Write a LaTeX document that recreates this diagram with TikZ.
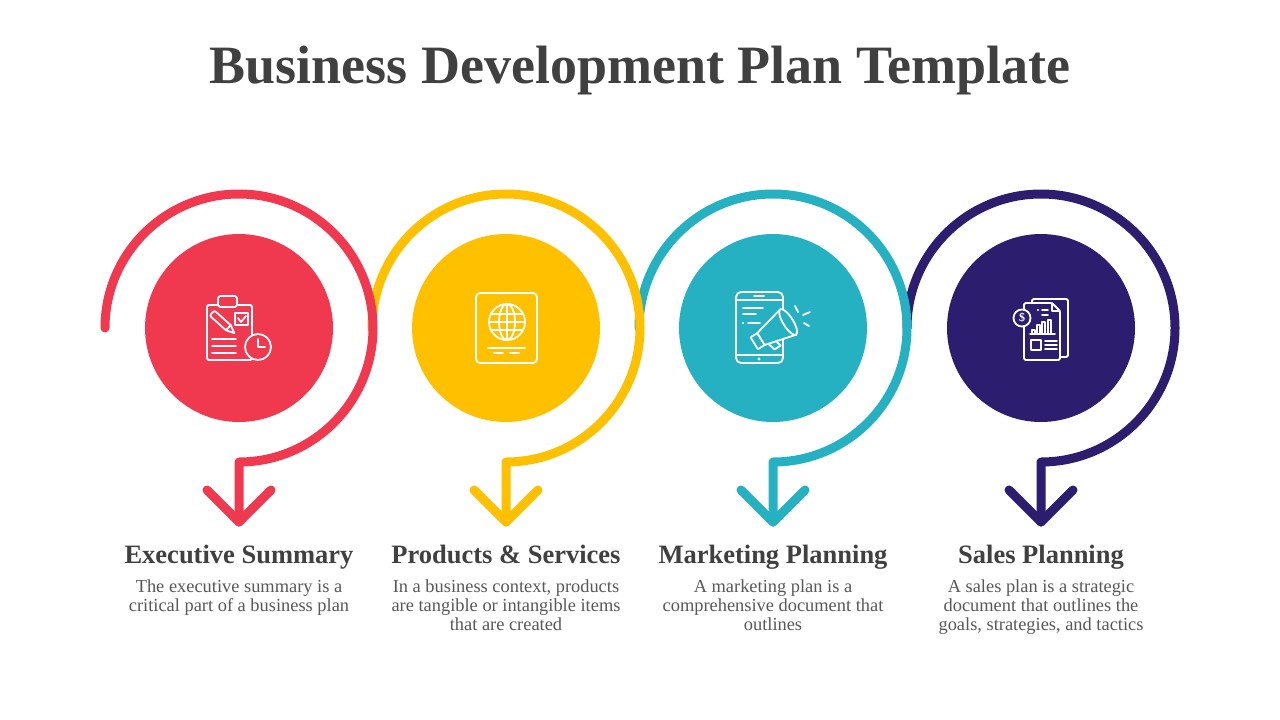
\documentclass[tikz,border=0pt]{standalone}
\usepackage{fontspec}
\setmainfont{Liberation Serif}
\usepackage{tikz}
\usetikzlibrary{calc}
\usetikzlibrary{positioning}
\definecolor{redA}{RGB}{240,56,79}
\definecolor{yellowB}{RGB}{255,192,0}
\definecolor{tealC}{RGB}{38,177,195}
\definecolor{purpleD}{RGB}{45,29,111}
\definecolor{inkgray}{RGB}{64,64,64}
\definecolor{bodygray}{RGB}{88,88,88}
\tikzset{disc/.style={circle, fill, minimum size=188pt, inner sep=0pt}}
\tikzset{ring/.style={line width=9pt, line cap=round, line join=round}}
\tikzset{icon/.style={draw=white, line width=1.8pt, line cap=round, line join=round}}
\tikzset{heading/.style={text=inkgray, font=\bfseries\fontsize{26.5}{30}\selectfont, anchor=base, inner sep=0pt}}
\tikzset{blurb/.style={text=bodygray, font=\fontsize{18.4}{19}\selectfont, align=center, anchor=base, inner sep=0pt}}

\begin{document}
\begin{tikzpicture}[x=1pt, y=-1pt]
\useasboundingbox (0,0) rectangle (1280,720);
\fill[white] (0,0) rectangle (1280,720);

\node[text=inkgray, font=\bfseries\fontsize{54}{60}\selectfont, anchor=base] (title) at (640,83) {Business Development Plan Template};

\coordinate (cA) at (239,328);
\coordinate (cB) at (506,328);
\coordinate (cC) at (773,328);
\coordinate (cD) at (1041,328);

\draw[ring, purpleD] ($(cD)+(-134,0)$) arc[start angle=180, end angle=450, radius=134] -- ($(cD)+(0,194)$) coordinate (tipD);
\draw[ring, purpleD] ($(tipD)+(-32,-32)$) -- (tipD) -- ($(tipD)+(32,-32)$);
\draw[ring, tealC] ($(cC)+(-134,0)$) arc[start angle=180, end angle=450, radius=134] -- ($(cC)+(0,194)$) coordinate (tipC);
\draw[ring, tealC] ($(tipC)+(-32,-32)$) -- (tipC) -- ($(tipC)+(32,-32)$);
\draw[ring, yellowB] ($(cB)+(-134,0)$) arc[start angle=180, end angle=450, radius=134] -- ($(cB)+(0,194)$) coordinate (tipB);
\draw[ring, yellowB] ($(tipB)+(-32,-32)$) -- (tipB) -- ($(tipB)+(32,-32)$);
\draw[ring, redA] ($(cA)+(-134,0)$) arc[start angle=180, end angle=450, radius=134] -- ($(cA)+(0,194)$) coordinate (tipA);
\draw[ring, redA] ($(tipA)+(-32,-32)$) -- (tipA) -- ($(tipA)+(32,-32)$);

\node[disc, fill=redA] (discA) at (cA) {};
\node[disc, fill=yellowB] (discB) at (cB) {};
\node[disc, fill=tealC] (discC) at (cC) {};
\node[disc, fill=purpleD] (discD) at (cD) {};

\begin{scope}[shift={(cA)}]
\draw[icon, rounded corners=1.5pt] (-32,-23) rectangle (13,32);
\draw[icon, fill=redA, rounded corners=2.5pt] (-21,-32) rectangle (-2,-21);
\draw[icon] (-4,-15) rectangle (9,-3);
\draw[icon] (-1,-10) -- (2,-6) -- (7,-12);
\draw[icon] (-27,11) -- (-3,11) (-27,18) -- (-3,18) (-27,25) -- (-3,25);
\begin{scope}[shift={(-27,-15)}, rotate=-42]
\draw[icon, rounded corners=2pt] (22,-3.5) -- (0,-3.5) -- (0,3.5) -- (22,3.5);
\draw[icon] (22,-3.5) -- (30,0) -- (22,3.5) -- cycle;
\end{scope}
\draw[icon, fill=redA] (19,19) circle (13);
\draw[icon] (19,11) -- (19,19) -- (26,19);
\end{scope}

\begin{scope}[shift={(cB)}]
\draw[icon, rounded corners=4pt] (-30,-35) rectangle (31,35);
\draw[icon] (1,-6) circle (18);
\draw[icon] (1,-6) ellipse (8 and 18);
\draw[icon] (1,-24) -- (1,12);
\draw[icon] (-17,-6) -- (19,-6);
\draw[icon] (-14,-14) -- (16,-14) (-14,2) -- (16,2);
\draw[icon] (-18,20) -- (19,20);
\draw[icon] (-12,25) -- (-3,25) (4,25) -- (13,25);
\end{scope}

\begin{scope}[shift={(cC)}]
\draw[icon, rounded corners=5pt] (-37,-36) rectangle (10,35);
\draw[icon] (-37,-28) -- (10,-28) (-37,27) -- (10,27);
\draw[icon] (-19,-32) -- (-9,-32);
\fill[white] (-14,31) circle (1.6);
\draw[icon] (-30,-20) -- (-10,-20) (-30,-14) -- (-17,-14);
\fill[white] (-30,-5) circle (1.2);
\draw[icon] (-25,-5) -- (-13,-5);
\begin{scope}[shift={(-12,11)}, rotate=32]
\draw[icon, fill=tealC] (3,6) -- (6,16) -- (13,16) -- (11,6);
\draw[icon, fill=tealC] (-8,-7) rectangle (0,7);
\draw[icon, fill=tealC] (0,-7) -- (32,-15) -- (32,15) -- (0,7) -- cycle;
\draw[icon, fill=tealC] (32,0) ellipse (5 and 15);
\end{scope}
\draw[icon] (22,-22) -- (25,-16);
\draw[icon] (30,-13) -- (37,-16);
\draw[icon] (31,-5) -- (36,-2);
\end{scope}

\begin{scope}[shift={(cD)}]
\draw[icon, rounded corners=1.5pt] (-9,-25) -- (-9,-29) -- (27,-29) -- (27,29) -- (19,29);
\draw[icon, fill=purpleD, rounded corners=1.5pt] (-17,-25) -- (11,-25) -- (19,-17) -- (19,32) -- (-17,32) -- cycle;
\draw[icon] (11,-25) -- (11,-17) -- (19,-17);
\draw[icon, fill=purpleD] (-19,-10) circle (8.5);
\node[text=white, font=\bfseries\fontsize{12}{12}\selectfont, inner sep=0pt] (dollar) at (-19,-10) {\$};
\fill[white] (-3,-18) circle (1.2);
\draw[icon] (1,-18) -- (7,-18) (1,-13) -- (7,-13);
\draw[icon] (-11,6) -- (14,6);
\draw[icon] (-9,2) rectangle (-6,6) (-4,-3) rectangle (-1,6) (1,-6) rectangle (4,6) (7,-8) rectangle (10,6);
\draw[icon] (-10,12) rectangle (0,22);
\draw[icon] (4,13) -- (16,13) (4,17) -- (16,17) (4,21) -- (16,21);
\end{scope}

\node[heading] (headA) at (239,563) {Executive Summary};
\node[heading] (headB) at (506,563) {Products \& Services};
\node[heading] (headC) at (773,563) {Marketing Planning};
\node[heading] (headD) at (1041,563) {Sales Planning};

\node[blurb] (textA) at (239,611) {The executive summary is a\\critical part of a business plan};
\node[blurb] (textB) at (506,630) {In a business context, products\\are tangible or intangible items\\that are created};
\node[blurb] (textC) at (773,630) {A marketing plan is a\\comprehensive document that\\outlines};
\node[blurb] (textD) at (1041,630) {A sales plan is a strategic\\document that outlines the\\goals, strategies, and tactics};
\end{tikzpicture}
\end{document}
